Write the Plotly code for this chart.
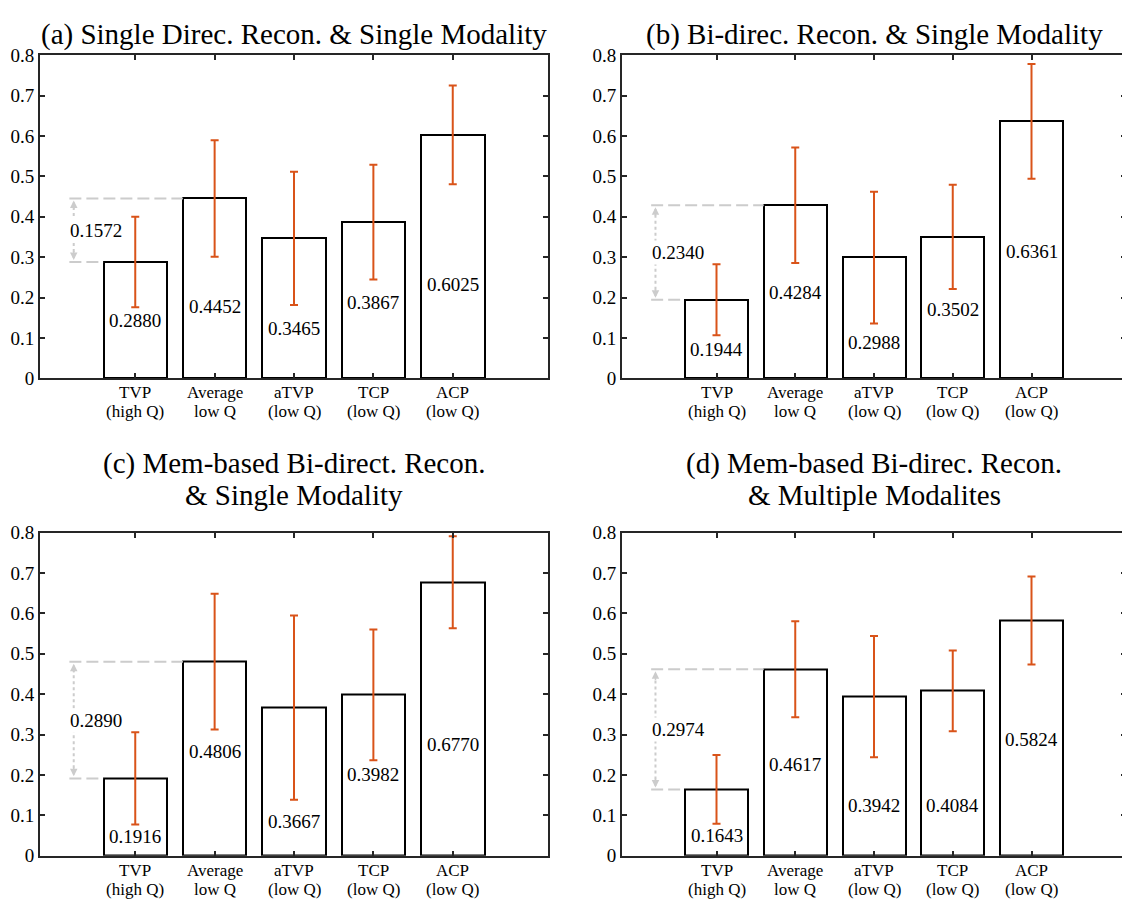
import plotly.graph_objects as go

categories = ["TVP|(high Q)", "Average|low Q", "aTVP|(low Q)", "TCP|(low Q)", "ACP|(low Q)"]
titles = [
    "(a) Single Direc. Recon. & Single Modality",
    "(b) Bi-direc. Recon. & Single Modality",
    "(c) Mem-based Bi-direct. Recon.|& Single Modality",
    "(d) Mem-based Bi-direc. Recon.|& Multiple Modalites",
]
values_a = [0.2880, 0.4452, 0.3465, 0.3867, 0.6025]
values_b = [0.1944, 0.4284, 0.2988, 0.3502, 0.6361]
values_c = [0.1916, 0.4806, 0.3667, 0.3982, 0.6770]
values_d = [0.1643, 0.4617, 0.3942, 0.4084, 0.5824]
err_a = [0.112, 0.144, 0.165, 0.142, 0.122]
err_b = [0.088, 0.143, 0.163, 0.129, 0.142]
err_c = [0.114, 0.168, 0.228, 0.162, 0.114]
err_d = [0.085, 0.119, 0.150, 0.100, 0.109]
# vertical placement of the value labels inside the bars
label_y_a = [0.144, 0.178, 0.124, 0.188, 0.233]
label_y_b = [0.072, 0.213, 0.089, 0.171, 0.314]
label_y_c = [0.047, 0.258, 0.084, 0.201, 0.276]
label_y_d = [0.050, 0.226, 0.124, 0.124, 0.288]
y_ticks = [0, 0.1, 0.2, 0.3, 0.4, 0.5, 0.6, 0.7, 0.8]
y_ticktext = ["0", "0.1", "0.2", "0.3", "0.4", "0.5", "0.6", "0.7", "0.8"]

panels = [
    (values_a, err_a, label_y_a),
    (values_b, err_b, label_y_b),
    (values_c, err_c, label_y_c),
    (values_d, err_d, label_y_d),
]

OFF = 8  # page body margin
W, H = 1130 - OFF, 900 - OFF


def px_x(p):
    return (p - OFF) / W


def px_y(p):
    return 1 - (p - OFF) / H


x_domains = [(px_x(40), px_x(548)), (px_x(622), px_x(1126)), (px_x(40), px_x(548)), (px_x(622), px_x(1126))]
y_domains = [(px_y(377), px_y(46)), (px_y(377), px_y(46)),
             (px_y(866), px_y(535)), (px_y(866), px_y(535))]
title_line_y = [[px_y(24.5)], [px_y(24.5)], [px_y(464), px_y(497)], [px_y(464), px_y(497)]]

FONT = "Liberation Serif"
AX = "#262626"
ORANGE = "#D95319"
GREY = "#CCCCCC"
xpos = [1, 2, 3, 4, 5]

fig = go.Figure()
annotations = []
shapes = []

for i, (vals, errs, ly) in enumerate(panels):
    n = "" if i == 0 else str(i + 1)
    xa, ya = "x" + n, "y" + n
    fig.add_trace(go.Bar(
        x=xpos, y=vals, width=0.8, xaxis=xa, yaxis=ya,
        marker=dict(color="white", line=dict(color="black", width=2)),
        error_y=dict(type="data", array=errs, visible=True, color=ORANGE, thickness=2, width=4),
        showlegend=False, hoverinfo="skip",
    ))
    fig.layout["xaxis" + n] = dict(
        domain=list(x_domains[i]), range=[-0.2, 6.2], anchor=ya,
        tickmode="array", tickvals=xpos, ticktext=[""] * len(xpos),
        ticks="inside", ticklen=5, tickwidth=2, tickcolor=AX,
        showline=True, linewidth=2, linecolor=AX, mirror="ticks",
        showgrid=False, zeroline=False,
    )
    fig.layout["yaxis" + n] = dict(
        domain=list(y_domains[i]), range=[0, 0.8], anchor=xa,
        tickmode="array", tickvals=y_ticks, ticktext=y_ticktext,
        ticks="inside", ticklen=5, tickwidth=2, tickcolor=AX,
        showline=True, linewidth=2, linecolor=AX, mirror="ticks",
        showgrid=False, zeroline=False,
        tickfont=dict(family=FONT, size=19, color="black"),
    )
    # category labels (two tight lines)
    for xv, cat in zip(xpos, categories):
        l1, l2 = cat.split("|")
        for txt, sh in ((l1, -14.5), (l2, -33.5)):
            annotations.append(dict(
                x=xv, y=0, xref=xa, yref=ya, yshift=sh, yanchor="middle", text=txt,
                showarrow=False, font=dict(family=FONT, size=17, color="black"),
            ))
    # value labels
    for xv, v, yv in zip(xpos, vals, ly):
        annotations.append(dict(
            x=xv, y=yv, xref=xa, yref=ya, text=f"{v:.4f}", showarrow=False,
            font=dict(family=FONT, size=19, color="black"),
        ))
    # gap annotation between TVP and Average
    lo, hi = vals[0], vals[1]
    x0 = 0.17
    shapes.append(dict(type="line", xref=xa, yref=ya, x0=x0, x1=xpos[0] - 0.4, y0=lo, y1=lo,
                       line=dict(color=GREY, width=2, dash="12px,5px")))
    shapes.append(dict(type="line", xref=xa, yref=ya, x0=x0, x1=xpos[1] - 0.4, y0=hi, y1=hi,
                       line=dict(color=GREY, width=2, dash="12px,5px")))
    xv = 0.225
    shapes.append(dict(type="line", xref=xa, yref=ya, x0=xv, x1=xv, y0=lo + 0.01, y1=hi - 0.01,
                       line=dict(color=GREY, width=2, dash="3px,3px")))
    annotations.append(dict(x=xv, y=hi - 0.005, ax=xv, ay=hi - 0.03, xref=xa, yref=ya,
                            axref=xa, ayref=ya, text="", showarrow=True, arrowhead=2,
                            arrowsize=1, arrowwidth=1.5, arrowcolor=GREY))
    annotations.append(dict(x=xv, y=lo + 0.005, ax=xv, ay=lo + 0.03, xref=xa, yref=ya,
                            axref=xa, ayref=ya, text="", showarrow=True, arrowhead=2,
                            arrowsize=1, arrowwidth=1.5, arrowcolor=GREY))
    annotations.append(dict(x=0.15, y=(lo + hi) / 2, xref=xa, yref=ya, xanchor="left",
                            text=f"{hi - lo:.4f}", showarrow=False, bgcolor="white",
                            font=dict(family=FONT, size=19, color="black")))
    # panel title (one annotation per line, tight line spacing)
    for line_text, ty in zip(titles[i].split("|"), title_line_y[i]):
        annotations.append(dict(
            x=(x_domains[i][0] + x_domains[i][1]) / 2, y=ty, xref="paper", yref="paper",
            xanchor="center", yanchor="middle",
            text=line_text, showarrow=False,
            font=dict(family=FONT, size=29, color="black"),
        ))

fig.update_layout(
    width=W, height=H, margin=dict(l=0, r=0, t=0, b=0),
    paper_bgcolor="white", plot_bgcolor="white",
    annotations=annotations, shapes=shapes, bargap=0,
)
fig.write_html("out.html")
